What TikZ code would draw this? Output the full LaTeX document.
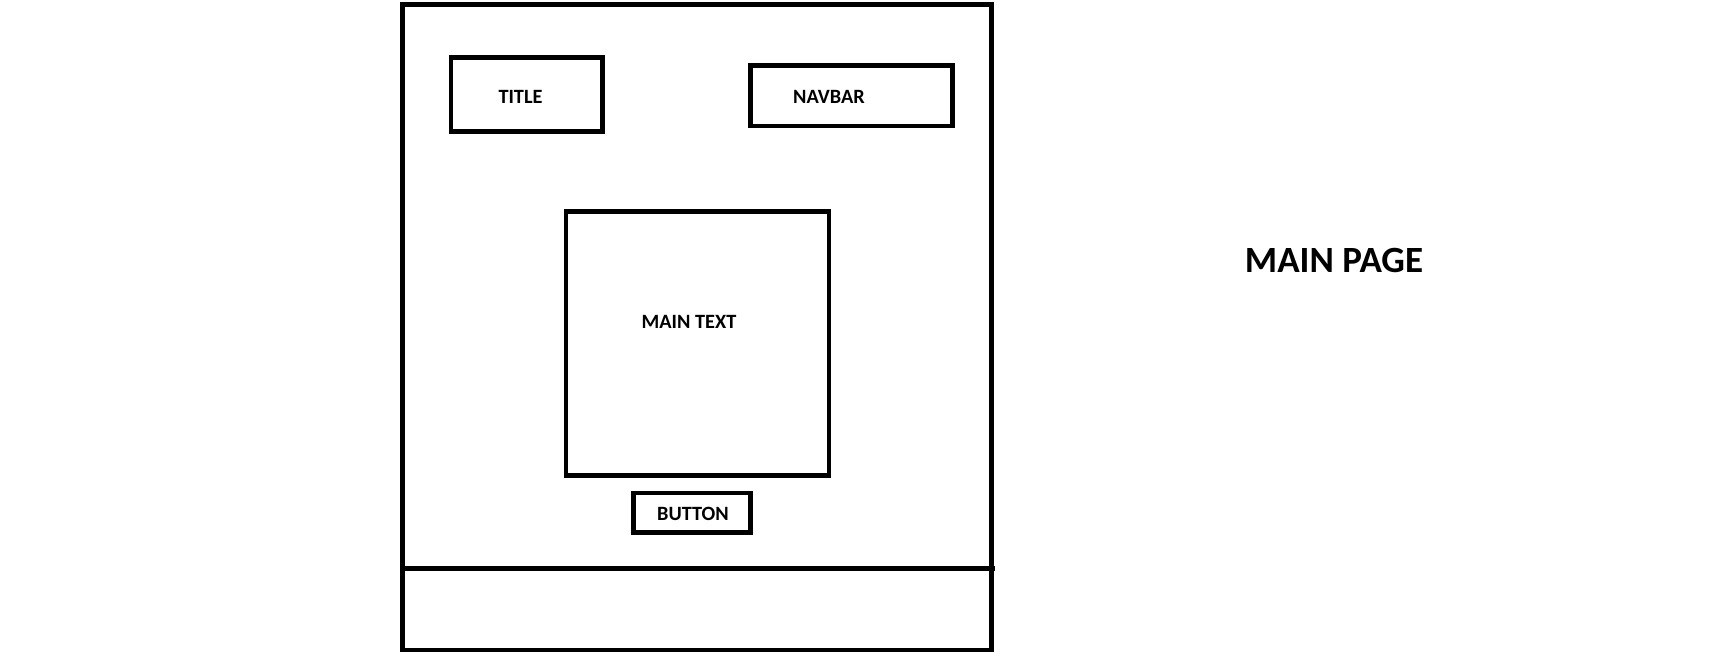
\documentclass[tikz,border=0pt]{standalone}
\usepackage{fontspec}
\setmainfont{Carlito}
\begin{document}
\begin{tikzpicture}[x=1pt,y=-1pt,
  frame/.style={draw=black,line width=4.8pt,line join=miter},
  lbl/.style={font=\bfseries\fontsize{20.3}{23}\selectfont,inner sep=0pt,anchor=center},
  biglbl/.style={font=\bfseries\fontsize{37}{42}\selectfont,inner sep=0pt,anchor=center}]
\useasboundingbox[fill=white] (0,0) rectangle (1733,657);
% outer page
\draw[frame] (402.3,4.4) rectangle (991.4,649.9);
\draw[frame] (402.3,568.1) -- (994.7,568.1);
% boxes
\draw[frame] (450.9,57.5) rectangle (602.3,131.5);
\draw[frame] (750.4,65.2) rectangle (952.7,126);
\draw[frame] (565.9,211.1) rectangle (828.9,475.2);
\draw[frame] (633.3,492.9) rectangle (750.4,532.7);
% labels
\node[lbl] (title) at (520.5,96.5) {TITLE};
\node[lbl] (navbar) at (829,96.5) {NAVBAR};
\node[lbl] (maintext) at (689,322) {MAIN TEXT};
\node[lbl] (button) at (693,514) {BUTTON};
\node[biglbl] (mainpage) at (1334,260) {MAIN PAGE};
\end{tikzpicture}
\end{document}
